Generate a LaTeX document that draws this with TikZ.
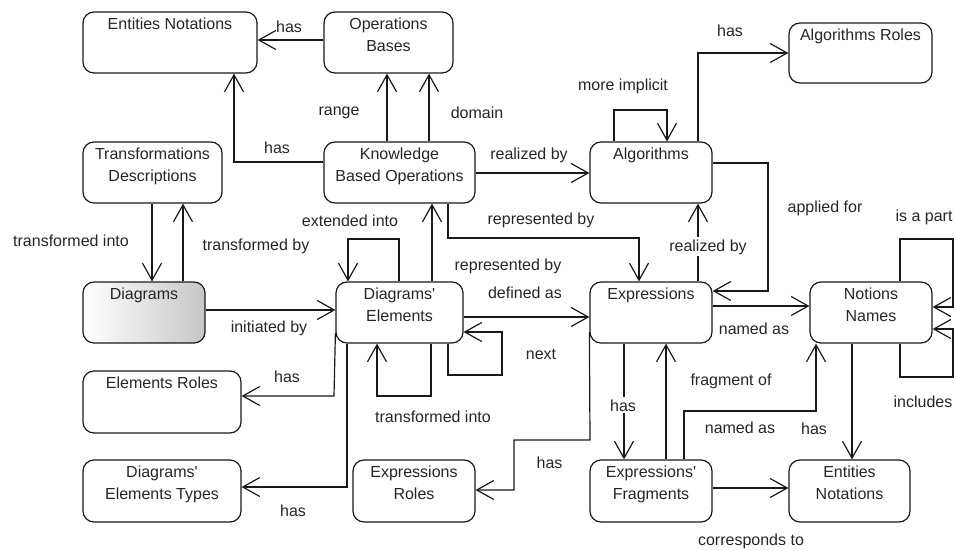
\documentclass[tikz,border=0pt]{standalone}
\usepackage{fontspec}
\newfontfamily\lsans{Liberation Sans}
\usetikzlibrary{arrows.meta}
\begin{document}
\begin{tikzpicture}[x=1pt,y=-1pt,
  every node/.style={font=\lsans\fontsize{16}{22}\selectfont, text=black!85},
  bx/.style={draw=black!90, line width=1.2pt, rounded corners=11pt, inner sep=0pt, align=center,
             text height=17.5pt, text depth=43.5pt, minimum width=#1},
  tall/.style={text depth=44.5pt},
  two/.style={text height=39.5pt, text depth=21.5pt},
  twotall/.style={text height=39.5pt, text depth=22.5pt},
  lbl/.style={inner sep=0pt, anchor=base},
  wlbl/.style={lbl, fill=white, inner ysep=2pt},
  arr/.style={draw=black!90, line width=1.2pt, -{Straight Barb[length=17pt,width=19pt]}}
]
\useasboundingbox (0,0) rectangle (956,551);
% boxes
\node[bx=174pt] (EN1) at (170,42.5) {Entities Notations};
\node[bx=129pt, two] (OB) at (388.5,42.5) {Operations\\Bases};
\node[bx=139pt, two] (TD) at (152.5,172.5) {Transformations\\Descriptions};
\node[bx=151pt, two] (KBO) at (399.5,172.5) {Knowledge\\Based Operations};
\node[bx=143pt, text depth=42.5pt] (AR) at (860.5,53) {Algorithms Roles};
\node[bx=122pt] (ALG) at (651,172.5) {Algorithms};
\node[bx=122pt, left color=white, right color=black!22] (DIA) at (144,312.5) {Diagrams};
\node[bx=127pt, two] (DE) at (399.5,312.5) {Diagrams'\\Elements};
\node[bx=158pt, tall] (ER) at (162,402) {Elements Roles};
\node[bx=158pt, twotall] (DET) at (162,491) {Diagrams'\\Elements Types};
\node[bx=122pt, twotall] (XR) at (414,491) {Expressions\\Roles};
\node[bx=122pt] (EXP) at (651,312.5) {Expressions};
\node[bx=122pt, two] (NN) at (871,312.5) {Notions\\Names};
\node[bx=122pt, twotall] (EF) at (651,491) {Expressions'\\Fragments};
\node[bx=121pt, twotall] (EN2) at (849.5,491) {Entities\\Notations};
% connectors
\draw[arr] (OB.west |- 0,40) -- (EN1.east |- 0,40);
\draw[arr] (KBO.north -| 387,0) -- (OB.south -| 387,0);
\draw[arr] (KBO.north -| 429,0) -- (OB.south -| 429,0);
\draw[arr] (KBO.west |- 0,162) -| (EN1.south -| 234,0);
\draw[arr] (TD.south -| 152,0) -- (DIA.north -| 152,0);
\draw[arr] (DIA.north -| 183,0) -- (TD.south -| 183,0);
\draw[arr] (DIA.east |- 0,310) -- (DE.west |- 0,310);
\draw[arr] (DE.north -| 399,0) -- (399,239) -| (DE.north -| 348,0);
\draw[arr] (DE.north -| 432,0) -- (KBO.south -| 432,0);
\draw[arr] (KBO.south -| 448,0) -- (448,238) -| (EXP.north -| 639,0);
\draw[arr] (KBO.east |- 0,173) -- (ALG.west |- 0,173);
\draw[arr] (DE.east |- 0,317) -- (EXP.west |- 0,317);
\draw[arr] (DE.south -| 448,0) -- (448,375) -- (502,375) -- (502,332) -- (DE.east |- 0,332);
\draw[arr] (DE.south -| 431,0) -- (431,396) -| (DE.south -| 377,0);
\draw[arr] (DE.west |- 0,333) -- (334,396) -- (ER.east |- 0,396);
\draw[arr] (DE.south -| 347,0) -- (347,487) -- (DET.east |- 0,487);
\draw[arr] (EXP.west |- 0,332) -- (590,440) -- (514,440) -- (514,490) -- (XR.east |- 0,490);
\draw[arr] (EXP.south -| 624,0) -- (EF.north -| 624,0);
\draw[arr] (EF.north -| 666,0) -- (EXP.south -| 666,0);
\draw[arr] (EF.north -| 684,0) -- (684,411) -| (NN.south -| 816,0);
\draw[arr] (EXP.east |- 0,306) -- (NN.west |- 0,306);
\draw[arr] (EXP.north -| 698,0) -- (ALG.south -| 698,0);
\draw[arr] (ALG.east |- 0,163) -- (768,163) -- (768,291) -- (EXP.east |- 0,291);
\draw[arr] (ALG.north -| 614,0) -- (614,110) -| (ALG.north -| 667,0);
\draw[arr] (ALG.north -| 698,0) |- (AR.west |- 0,53);
\draw[arr] (NN.north -| 900,0) -- (900,239) -- (953,239) -- (953,307) -- (NN.east |- 0,307);
\draw[arr] (NN.south -| 900,0) -- (900,377) -- (953,377) -- (953,329) -- (NN.east |- 0,329);
\draw[arr] (NN.south -| 852,0) -- (EN2.north -| 852,0);
\draw[arr] (EF.east |- 0,488) -- (EN2.west |- 0,488);
% labels
\node[lbl] (l1) at (289,33) {has};
\node[lbl] (l2) at (339,115) {range};
\node[lbl] (l3) at (477,118) {domain};
\node[lbl] (l4) at (277,153) {has};
\node[lbl] (l5) at (71,246) {transformed into};
\node[lbl] (l6) at (256,250) {transformed by};
\node[lbl] (l7) at (350,226) {extended into};
\node[lbl] (l8) at (623,91) {more implicit};
\node[lbl] (l9) at (730,37) {has};
\node[lbl] (l10) at (529,159) {realized by};
\node[lbl] (l11) at (541,224) {represented by};
\node[lbl] (l12) at (508,270) {represented by};
\node[wlbl] (l13) at (708,251) {realized by};
\node[lbl] (l14) at (825,212) {applied for};
\node[lbl] (l15) at (924,221) {is a part};
\node[lbl] (l16) at (525,298) {defined as};
\node[lbl] (l17) at (269,332) {initiated by};
\node[lbl] (l18) at (541,359) {next};
\node[lbl] (l19) at (754,334) {named as};
\node[lbl] (l20) at (287,382) {has};
\node[lbl] (l21) at (433,422) {transformed into};
\node[wlbl] (l22) at (623,411) {has};
\node[lbl] (l23) at (731,385) {fragment of};
\node[lbl] (l24) at (740,433) {named as};
\node[lbl] (l25) at (814,434) {has};
\node[lbl] (l26) at (923,407) {includes};
\node[lbl] (l27) at (549.5,468) {has};
\node[lbl] (l28) at (293,516) {has};
\node[lbl] (l29) at (751,545.5) {corresponds to};
\end{tikzpicture}
\end{document}
